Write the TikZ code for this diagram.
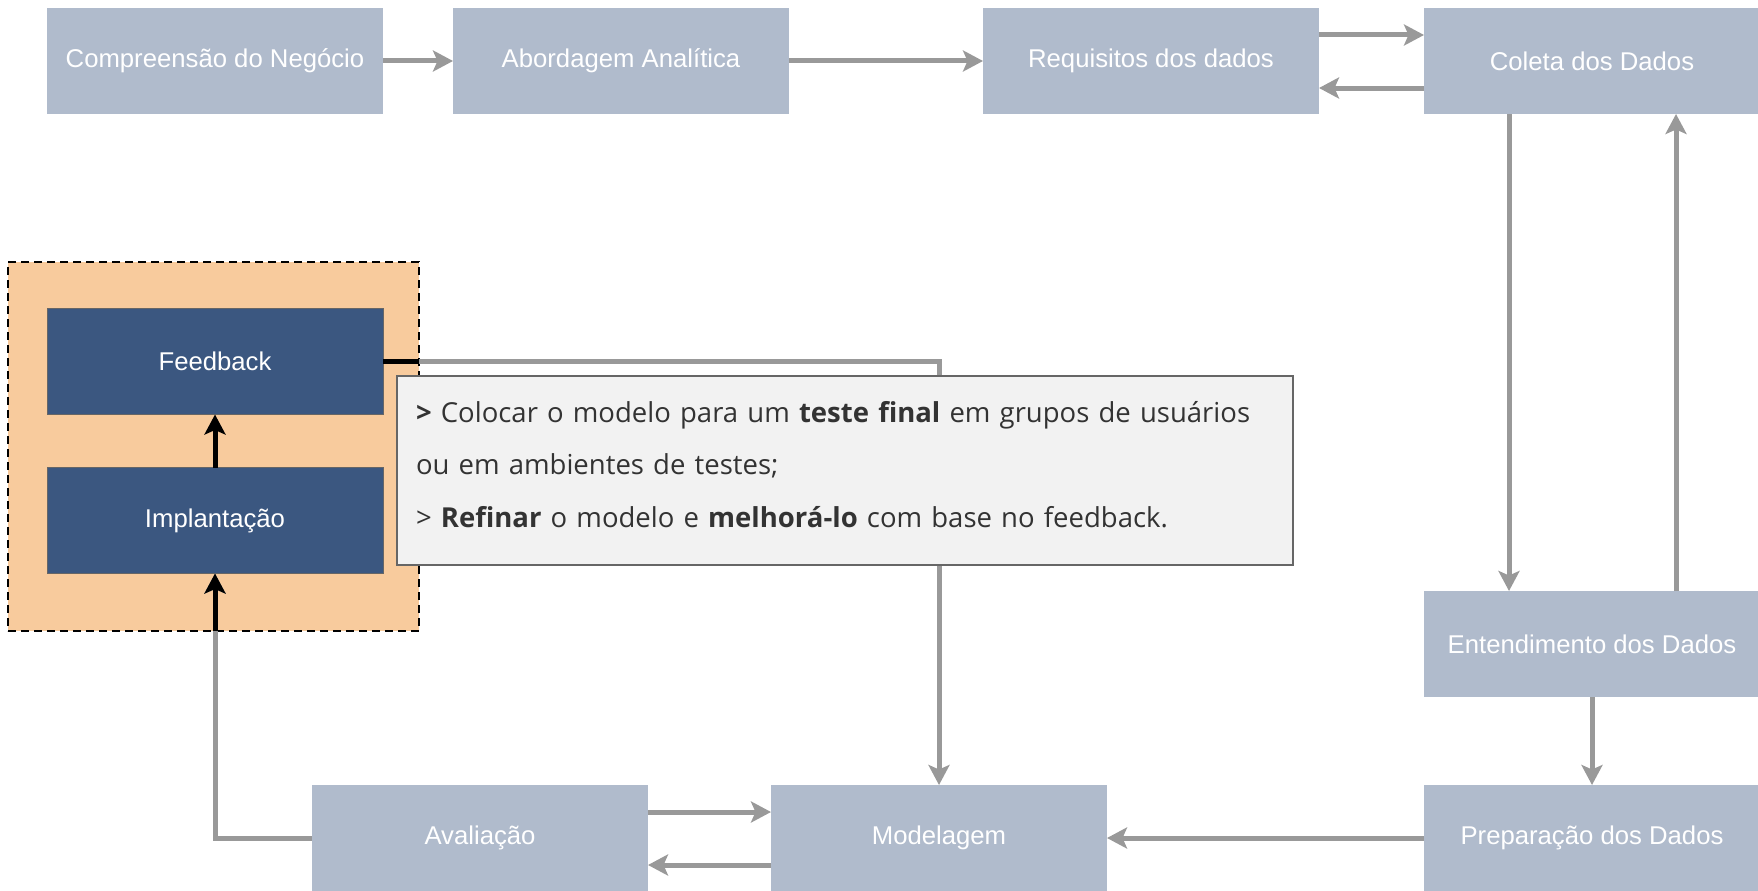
\documentclass[tikz,border=0pt]{standalone}
\usepackage{fontspec}
\setmainfont{Liberation Sans}
\newfontfamily\calloutfont{Open Sans}
\usetikzlibrary{arrows.meta}
\definecolor{boxfill}{HTML}{B0BBCC}
\definecolor{darkfill}{HTML}{3B5780}
\definecolor{grpfill}{HTML}{F8CB9D}
\definecolor{edgegray}{HTML}{999999}
\definecolor{callfill}{HTML}{F2F2F2}
\definecolor{callline}{HTML}{666666}
\definecolor{calltext}{HTML}{333333}
\begin{document}
\begin{tikzpicture}[x=1pt,y=-1pt,
  box/.style={rectangle, fill=boxfill, minimum width=336pt, minimum height=106pt,
    inner sep=0pt, outer sep=0pt, text=white, font=\fontsize{25.7}{30}\selectfont},
  darkbox/.style={box, fill=darkfill, draw=callline, line width=0.8pt},
  grpbox/.style={rectangle, fill=grpfill, draw=black, line width=1.8pt,
    dash pattern=on 8pt off 5pt, minimum width=411pt, minimum height=369pt,
    inner sep=0pt, outer sep=0pt},
  notebox/.style={rectangle, fill=callfill, draw=callline, line width=2pt,
    minimum width=896pt, minimum height=189pt, inner xsep=19pt, inner ysep=0pt,
    outer sep=0pt, text width=858pt, align=left, text=calltext,
    font=\calloutfont\fontsize{27.5}{52.7}\selectfont},
  conn/.style={draw=edgegray, line width=5pt,
    -{Stealth[length=20pt,width=21pt,inset=4.5pt]}},
  bconn/.style={conn, draw=black},
  bline/.style={draw=black, line width=5pt},
]
\useasboundingbox (0,0) rectangle (1758,891);

% group background
\node[grpbox] (grp) at (213.5,446.5) {};

% boxes
\node[box] (comp)  at (215,61)   {Compreensão do Negócio};
\node[box] (abord) at (621,61)   {Abordagem Analítica};
\node[box] (req)   at (1151,61)  {Requisitos dos dados};
\node[box] (col)   at (1592,61)  {Coleta dos Dados};
\node[box] (ent)   at (1592,644) {Entendimento dos Dados};
\node[box] (prep)  at (1592,838) {Preparação dos Dados};
\node[box] (model) at (939,838)  {Modelagem};
\node[box] (aval)  at (480,838)  {Avaliação};
\node[darkbox] (fb)   at (215,361.5) {Feedback};
\node[darkbox] (impl) at (215,520.5) {Implantação};

% connectors
\draw[conn] (comp) -- (abord);
\draw[conn] (abord) -- (req);
\draw[conn] ([yshift=26pt]req.east) -- ([yshift=26pt]col.west);
\draw[conn] ([yshift=-27pt]col.west) -- ([yshift=-27pt]req.east);
\draw[conn] ([xshift=-83pt]col.south) -- ([xshift=-83pt]ent.north);
\draw[conn] ([xshift=84pt]ent.north) -- ([xshift=84pt]col.south);
\draw[conn] (ent) -- (prep);
\draw[conn] (prep) -- (model);
\draw[conn] ([yshift=26pt]aval.east) -- ([yshift=26pt]model.west);
\draw[conn] ([yshift=-27pt]model.west) -- ([yshift=-27pt]aval.east);
\draw[conn] (aval.west) -| (impl.south);
\draw[conn] (fb.east) -| (model.north);

% black parts inside the group
\draw[bconn] (impl |- grp.south) -- (impl.south);
\draw[bconn] (impl) -- (fb);
\draw[bline] (fb.east) -- (fb.east -| grp.east);

% note
\node[notebox] (note) at (845,470.5) {\textbf{>} Colocar o modelo para um \textbf{teste final} em grupos de usuários\\
ou em ambientes de testes;\\
> \textbf{Refinar} o modelo e \textbf{melhorá-lo} com base no feedback.\par\vspace*{12pt}};
\end{tikzpicture}
\end{document}
